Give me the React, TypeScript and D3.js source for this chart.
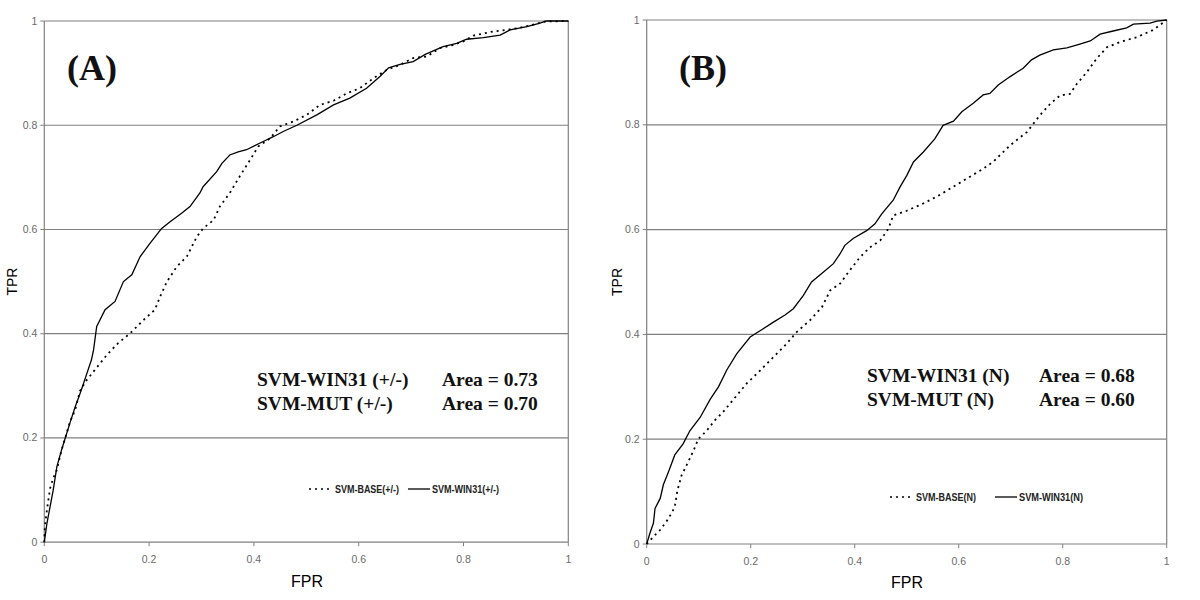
import React from "react";
import * as d3 from "d3";

type Pt = [number, number];

const tickValues = [0, 0.2, 0.4, 0.6, 0.8, 1];
const tickLabels = ["0", "0.2", "0.4", "0.6", "0.8", "1"];

const panelLabels = ["(A)", "(B)"];
const seriesNamesA = ["SVM-BASE(+/-)", "SVM-WIN31(+/-)"];
const seriesNamesB = ["SVM-BASE(N)", "SVM-WIN31(N)"];
const legendWidthsA = [64, 67];
const legendWidthsB = [60, 64];
const areaNamesA = ["SVM-WIN31 (+/-)", "SVM-MUT (+/-)"];
const areaValuesA = ["Area = 0.73", "Area = 0.70"];
const areaNamesB = ["SVM-WIN31 (N)", "SVM-MUT (N)"];
const areaValuesB = ["Area = 0.68", "Area = 0.60"];

const rocA_win31: Pt[] = [[0,0],[0.005,0.036],[0.011,0.068],[0.017,0.10],[0.024,0.145],[0.033,0.177],[0.04,0.20],[0.049,0.229],[0.059,0.26],[0.07,0.29],[0.08,0.32],[0.09,0.35],[0.094,0.369],[0.10,0.414],[0.116,0.446],[0.135,0.462],[0.151,0.50],[0.167,0.513],[0.183,0.548],[0.202,0.574],[0.224,0.602],[0.24,0.615],[0.262,0.631],[0.278,0.644],[0.297,0.67],[0.303,0.682],[0.329,0.711],[0.339,0.727],[0.354,0.743],[0.37,0.749],[0.386,0.753],[0.412,0.766],[0.437,0.778],[0.456,0.788],[0.482,0.80],[0.52,0.82],[0.552,0.839],[0.583,0.852],[0.615,0.871],[0.641,0.894],[0.657,0.91],[0.679,0.917],[0.704,0.922],[0.727,0.936],[0.761,0.951],[0.787,0.957],[0.806,0.965],[0.838,0.968],[0.87,0.973],[0.889,0.983],[0.921,0.989],[0.946,0.996],[0.959,1],[1,1]];

const rocA_base: Pt[] = [[0,0],[0.001,0.03],[0.005,0.062],[0.011,0.103],[0.017,0.123],[0.024,0.139],[0.033,0.177],[0.04,0.20],[0.049,0.231],[0.059,0.254],[0.068,0.29],[0.08,0.31],[0.1,0.335],[0.12,0.36],[0.141,0.382],[0.164,0.401],[0.189,0.426],[0.211,0.446],[0.221,0.471],[0.234,0.50],[0.253,0.529],[0.272,0.548],[0.291,0.586],[0.303,0.602],[0.323,0.618],[0.335,0.644],[0.354,0.67],[0.373,0.702],[0.393,0.734],[0.408,0.759],[0.431,0.775],[0.45,0.798],[0.475,0.807],[0.501,0.82],[0.526,0.839],[0.552,0.847],[0.577,0.861],[0.602,0.871],[0.628,0.89],[0.653,0.906],[0.679,0.916],[0.704,0.929],[0.73,0.932],[0.755,0.948],[0.781,0.954],[0.8,0.961],[0.819,0.972],[0.857,0.98],[0.882,0.983],[0.908,0.987],[0.933,0.993],[0.956,0.999],[1,1]];

const rocB_win31: Pt[] = [[0,0],[0.006,0.02],[0.013,0.04],[0.016,0.068],[0.026,0.087],[0.032,0.113],[0.042,0.138],[0.054,0.17],[0.07,0.191],[0.083,0.216],[0.103,0.242],[0.122,0.276],[0.138,0.30],[0.154,0.332],[0.173,0.363],[0.199,0.395],[0.218,0.407],[0.243,0.423],[0.266,0.437],[0.282,0.449],[0.301,0.474],[0.317,0.50],[0.34,0.519],[0.359,0.535],[0.372,0.554],[0.381,0.57],[0.397,0.583],[0.423,0.598],[0.439,0.611],[0.452,0.63],[0.474,0.656],[0.487,0.681],[0.50,0.703],[0.513,0.729],[0.532,0.748],[0.554,0.773],[0.57,0.799],[0.59,0.807],[0.606,0.825],[0.628,0.841],[0.647,0.857],[0.66,0.86],[0.676,0.876],[0.699,0.892],[0.724,0.908],[0.74,0.924],[0.756,0.933],[0.782,0.943],[0.808,0.947],[0.833,0.954],[0.853,0.96],[0.872,0.973],[0.897,0.979],[0.923,0.985],[0.936,0.992],[0.968,0.994],[0.981,0.998],[1,1]];

const rocB_base: Pt[] = [[0,0],[0.013,0.014],[0.026,0.027],[0.038,0.043],[0.048,0.059],[0.054,0.071],[0.059,0.102],[0.067,0.131],[0.077,0.151],[0.09,0.178],[0.099,0.20],[0.115,0.216],[0.131,0.236],[0.147,0.252],[0.167,0.276],[0.192,0.306],[0.218,0.331],[0.243,0.356],[0.266,0.379],[0.288,0.404],[0.314,0.427],[0.337,0.452],[0.353,0.484],[0.372,0.497],[0.388,0.519],[0.41,0.547],[0.429,0.566],[0.449,0.579],[0.465,0.602],[0.474,0.627],[0.50,0.636],[0.526,0.647],[0.558,0.663],[0.59,0.682],[0.615,0.697],[0.647,0.716],[0.667,0.73],[0.699,0.761],[0.731,0.786],[0.756,0.818],[0.776,0.84],[0.795,0.856],[0.814,0.859],[0.827,0.878],[0.846,0.90],[0.865,0.926],[0.885,0.948],[0.91,0.958],[0.942,0.967],[0.974,0.981],[1,1]];

const GRID = "#808080";
const TICK_TEXT = "#6a6a6a";
const SANS = "Arial, 'Liberation Sans', sans-serif";
const SERIF = "'Times New Roman', 'Liberation Serif', serif";
const DOT = "2 4";

interface PanelProps {
  x0: number; x1: number; y0: number; y1: number;
  label: string; labelX: number;
  base: Pt[]; win: Pt[];
  names: string[]; legWidths: number[]; areaNames: string[]; areaValues: string[];
  annX: number; annAreaX: number; annY: number;
  legDotX: number; legSolidX: number; legY: number;
  fprX: number; fprY: number; tprX: number;
}

function Panel(p: PanelProps) {
  const x = d3.scaleLinear().domain([0, 1]).range([p.x0, p.x1]);
  const y = d3.scaleLinear().domain([0, 1]).range([p.y0, p.y1]);
  const line = d3.line<Pt>().x(d => x(d[0])).y(d => y(d[1])).curve(d3.curveLinear);
  return (
    <g>
      {tickValues.filter(v => v > 0).map(v => (
        <line key={"g" + v} x1={x(0)} x2={x(1)} y1={y(v)} y2={y(v)} stroke={GRID} strokeWidth={1.2} />
      ))}
      <line x1={x(1)} x2={x(1)} y1={y(0)} y2={y(1)} stroke={GRID} strokeWidth={1.2} />
      <line x1={x(0)} x2={x(0)} y1={y(0)} y2={y(1)} stroke={GRID} strokeWidth={1.2} />
      <line x1={x(0)} x2={x(1)} y1={y(0)} y2={y(0)} stroke={GRID} strokeWidth={1.2} />
      {tickValues.map((v, i) => (
        <g key={"y" + v}>
          <line x1={x(0) - 4} x2={x(0)} y1={y(v)} y2={y(v)} stroke={GRID} strokeWidth={1} />
          <text x={x(0) - 7} y={y(v) + 3.5} textAnchor="end" fontFamily={SANS} fontSize={10.5} fill={TICK_TEXT}>{tickLabels[i]}</text>
        </g>
      ))}
      {tickValues.map((v, i) => (
        <g key={"x" + v}>
          <line x1={x(v)} x2={x(v)} y1={y(0)} y2={y(0) + 4} stroke={GRID} strokeWidth={1} />
          <text x={x(v)} y={y(0) + 21} textAnchor="middle" fontFamily={SANS} fontSize={10.5} fill={TICK_TEXT}>{tickLabels[i]}</text>
        </g>
      ))}
      <path d={line(p.base) || ""} fill="none" stroke="#000" strokeWidth={1.8} strokeDasharray={DOT} />
      <path d={line(p.win) || ""} fill="none" stroke="#000" strokeWidth={1.3} />
      <text x={p.labelX} y={80} fontFamily={SERIF} fontWeight="bold" fontSize={36} fill="#111">{p.label}</text>
      {p.areaNames.map((n, i) => (
        <g key={"a" + i}>
          <text x={p.annX} y={p.annY + i * 23.5} fontFamily={SERIF} fontWeight="bold" fontSize={19.5} fill="#111">{n}</text>
          <text x={p.annAreaX} y={p.annY + i * 23.5} fontFamily={SERIF} fontWeight="bold" fontSize={19.5} fill="#111">{p.areaValues[i]}</text>
        </g>
      ))}
      <line x1={p.legDotX} x2={p.legDotX + 24} y1={p.legY} y2={p.legY} stroke="#000" strokeWidth={1.6} strokeDasharray={DOT} />
      <text x={p.legDotX + 26} y={p.legY + 3.5} fontFamily={SANS} fontWeight="bold" fontSize={10} fill="#222"
        textLength={p.legWidths[0]} lengthAdjust="spacingAndGlyphs">{p.names[0]}</text>
      <line x1={p.legSolidX} x2={p.legSolidX + 22} y1={p.legY} y2={p.legY} stroke="#000" strokeWidth={1.3} />
      <text x={p.legSolidX + 24} y={p.legY + 3.5} fontFamily={SANS} fontWeight="bold" fontSize={10} fill="#222"
        textLength={p.legWidths[1]} lengthAdjust="spacingAndGlyphs">{p.names[1]}</text>
      <text x={p.fprX} y={p.fprY} textAnchor="middle" fontFamily={SANS} fontSize={16} fill="#000">FPR</text>
      <text transform={`translate(${p.tprX},${(p.y0 + p.y1) / 2}) rotate(-90)`} textAnchor="middle" fontFamily={SANS} fontSize={14} fill="#000">TPR</text>
    </g>
  );
}

export default function App() {
  return (
    <svg width={1200} height={600} style={{ position: "absolute", left: 0, top: 0, background: "#fff" }}>
      <rect x={0} y={0} width={1200} height={600} fill="#fff" />
      <Panel x0={44.3} x1={568.3} y0={542.2} y1={21} label={panelLabels[0]} labelX={67}
        base={rocA_base} win={rocA_win31} names={seriesNamesA} legWidths={legendWidthsA}
        areaNames={areaNamesA} areaValues={areaValuesA}
        annX={257} annAreaX={442} annY={386}
        legDotX={309} legSolidX={408} legY={489}
        fprX={307} fprY={587} tprX={17} />
      <Panel x0={646.7} x1={1166.7} y0={544} y1={20} label={panelLabels[1]} labelX={679}
        base={rocB_base} win={rocB_win31} names={seriesNamesB} legWidths={legendWidthsB}
        areaNames={areaNamesB} areaValues={areaValuesB}
        annX={867} annAreaX={1039} annY={382}
        legDotX={890} legSolidX={995} legY={497}
        fprX={907} fprY={588} tprX={622} />
    </svg>
  );
}
